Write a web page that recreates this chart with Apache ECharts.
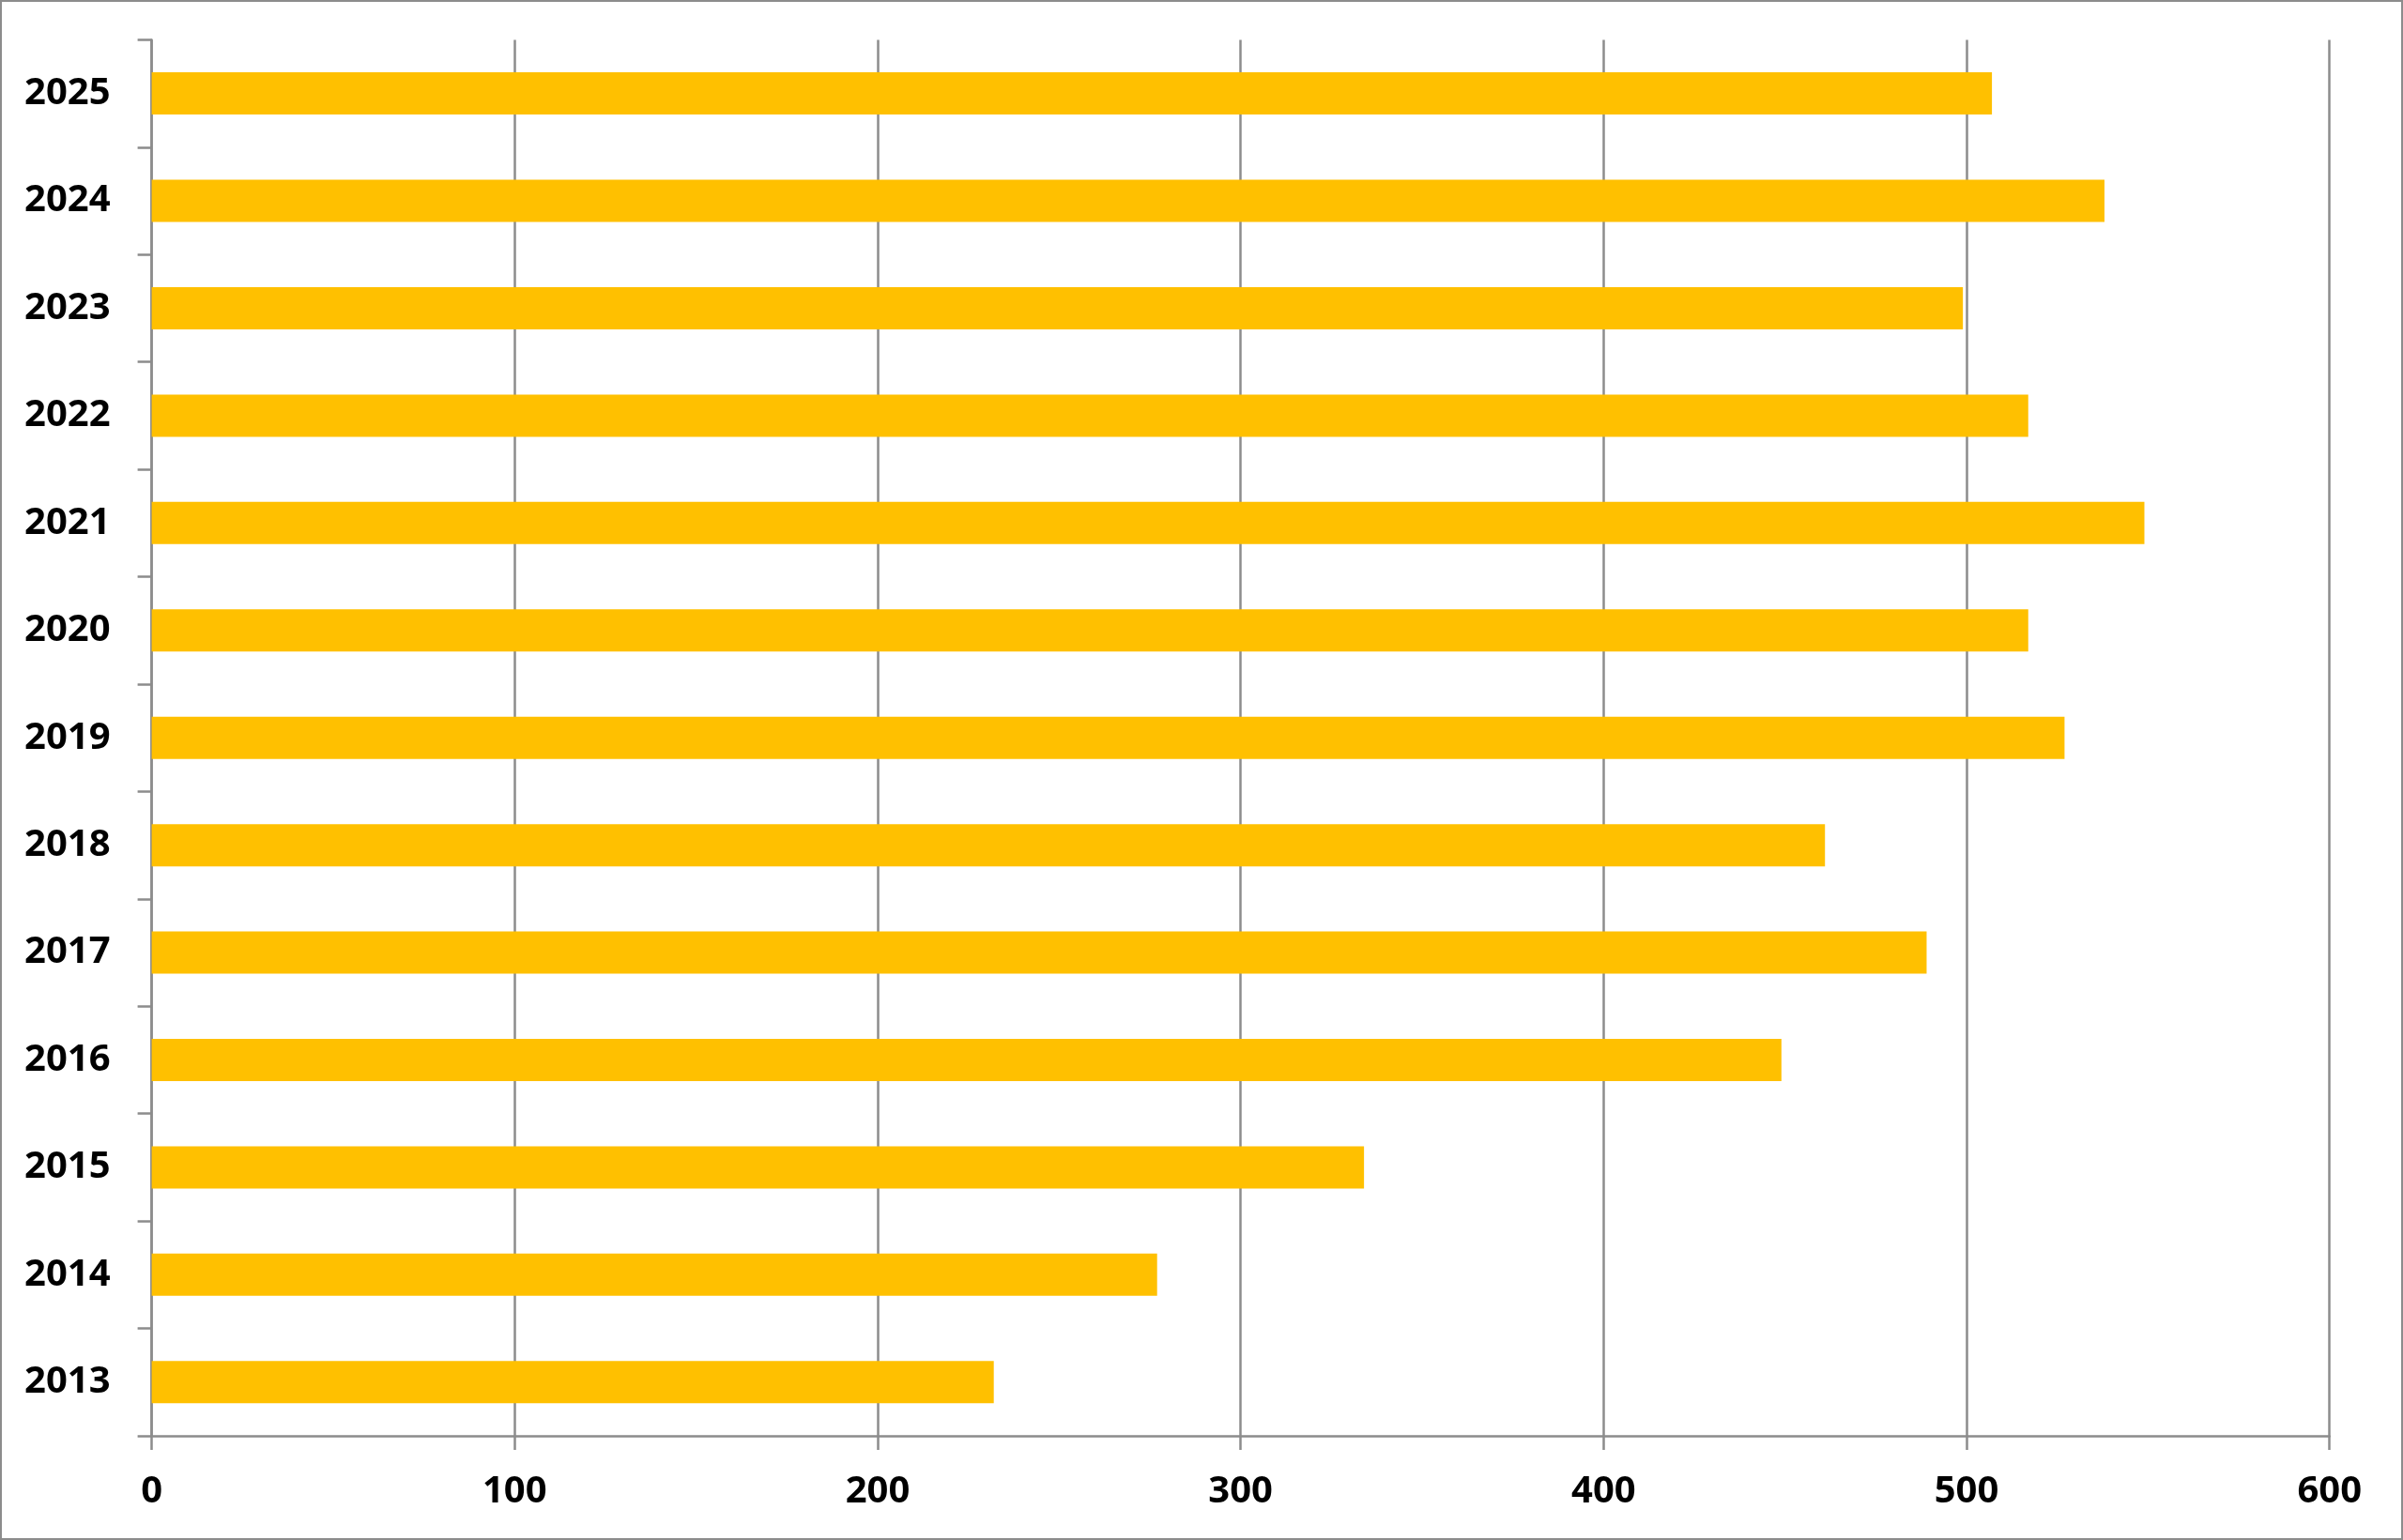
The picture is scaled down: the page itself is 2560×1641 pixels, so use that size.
<!DOCTYPE html>
<html>
<head>
<meta charset="utf-8">
<style>
  html, body { margin: 0; padding: 0; background: #fff; }
  #main { width: 2560px; height: 1641px; }
</style>
<script src="https://cdn.jsdelivr.net/npm/echarts@6/dist/echarts.min.js"></script>
</head>
<body>
<div id="main"></div>
<script>
// years, bottom to top
var years = ['2013', '2014', '2015', '2016', '2017', '2018', '2019',
             '2020', '2021', '2022', '2023', '2024', '2025'];
var values = [232, 277, 334, 449, 489, 461, 527, 517, 549, 517, 499, 538, 507];
var xTicks = [0, 100, 200, 300, 400, 500, 600];

var axisGray = '#8c8c8c';
var labelFont = { color: '#000', fontFamily: 'Open Sans', fontWeight: 'bold', fontSize: 40 };

var myChart = echarts.init(document.getElementById('main'));
myChart.setOption({
    animation: false,
    backgroundColor: '#fff',
    graphic: [{
        type: 'rect',
        shape: { x: 1, y: 1, width: 2558, height: 1639 },
        style: { fill: 'none', stroke: axisGray, lineWidth: 2 }
    }],
    grid: { left: 161.6, right: 78.3, top: 42.4, bottom: 111 },
    xAxis: {
        type: 'value',
        min: xTicks[0],
        max: xTicks[xTicks.length - 1],
        interval: xTicks[1] - xTicks[0],
        axisLine: { show: true, lineStyle: { color: axisGray, width: 2.5 } },
        axisTick: { show: true, length: 15, lineStyle: { color: axisGray, width: 2.5 } },
        splitLine: { show: true, lineStyle: { color: axisGray, width: 2.5 } },
        axisLabel: Object.assign({ margin: 40 }, labelFont)
    },
    yAxis: {
        type: 'category',
        data: years,
        axisLine: { show: true, lineStyle: { color: axisGray, width: 2.5 } },
        axisTick: { show: true, length: 15, lineStyle: { color: axisGray, width: 2.5 } },
        splitLine: { show: false },
        axisLabel: Object.assign({ margin: 44 }, labelFont)
    },
    series: [{
        type: 'bar',
        data: values,
        barWidth: 45,
        itemStyle: { color: '#FFC000' }
    }]
});
</script>
</body>
</html>
